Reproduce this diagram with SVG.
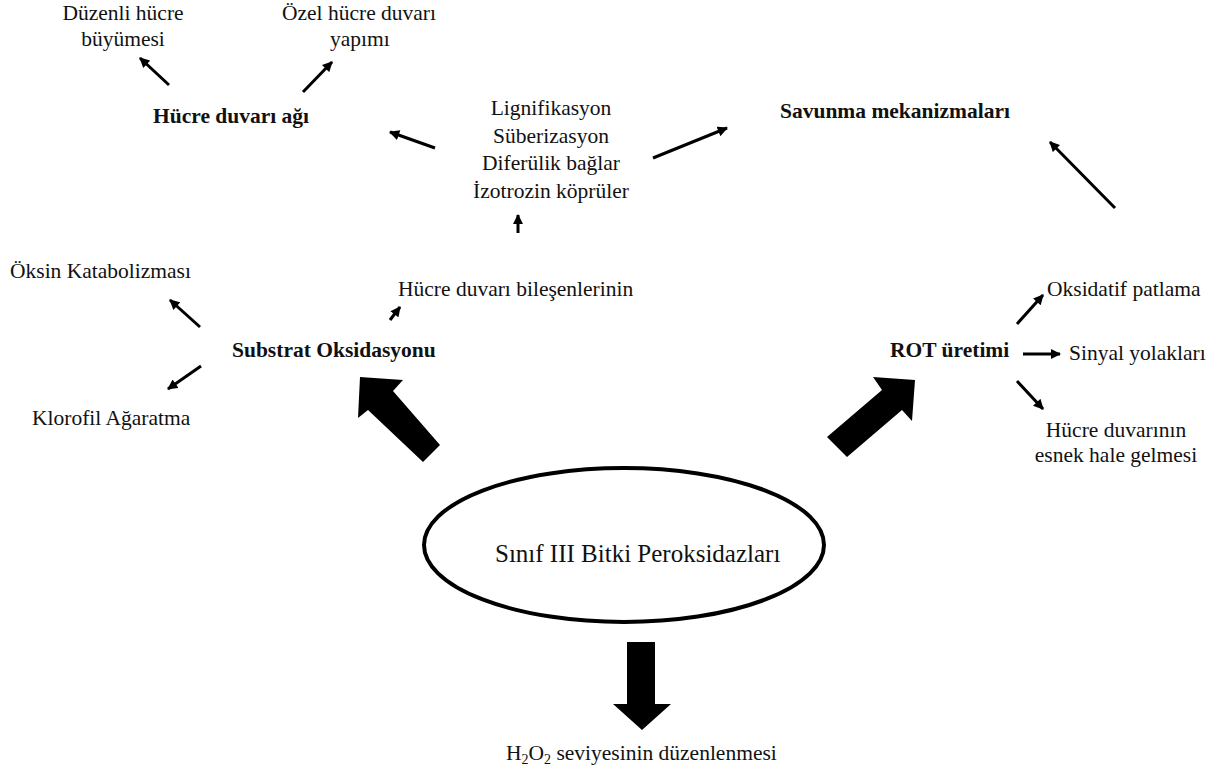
<svg xmlns="http://www.w3.org/2000/svg" width="1223" height="773" viewBox="0 0 1223 773" font-family="'Liberation Serif', 'Times New Roman', Times, serif">
<defs>
<marker id="ah" viewBox="0 0 10 10" refX="9" refY="5" markerWidth="3.6" markerHeight="3.4" orient="auto" markerUnits="strokeWidth">
<path d="M0,0 L10,5 L0,10 Z" fill="#000"/>
</marker>
<style>
text{font-family:'Liberation Serif', 'Times New Roman', Times, serif;font-size:21.5px;fill:#111}
.b{font-weight:bold}
.c{text-anchor:middle}
.thin{stroke:#000;stroke-width:3;fill:none;marker-end:url(#ah)}
.big{fill:#000}
</style>
</defs>
<rect width="1223" height="773" fill="#fff"/>
<g id="n-duzenli"><text class="c" x="123" y="20">Düzenli hücre</text><text class="c" x="123" y="46">büyümesi</text></g>
<g id="n-ozel"><text x="282" y="20">Özel hücre duvarı</text><text x="330" y="46">yapımı</text></g>
<g id="n-agi"><text class="b" x="153" y="123">Hücre duvarı ağı</text></g>
<g id="n-lig"><text class="c" x="551" y="115">Lignifikasyon</text><text class="c" x="551" y="143">Süberizasyon</text><text class="c" x="551" y="170">Diferülik bağlar</text><text class="c" x="551" y="198">İzotrozin köprüler</text></g>
<g id="n-savunma"><text class="b" x="780" y="118">Savunma mekanizmaları</text></g>
<g id="n-oksin"><text x="10" y="278">Öksin Katabolizması</text></g>
<g id="n-hdb"><text x="398" y="296">Hücre duvarı bileşenlerinin</text></g>
<g id="n-substrat"><text class="b" x="232" y="357">Substrat Oksidasyonu</text></g>
<g id="n-klorofil"><text x="32" y="425">Klorofil Ağaratma</text></g>
<g id="n-rot"><text class="b" x="890" y="357">ROT üretimi</text></g>
<g id="n-oksidatif"><text x="1047" y="296">Oksidatif patlama</text></g>
<g id="n-sinyal"><text x="1069" y="360">Sinyal yolakları</text></g>
<g id="n-esnek"><text class="c" x="1116" y="437">Hücre duvarının</text><text class="c" x="1116" y="462">esnek hale gelmesi</text></g>
<g id="n-center"><ellipse cx="624" cy="545" rx="200" ry="77" fill="none" stroke="#000" stroke-width="4"/><text x="495" y="562" style="font-size:25px">Sınıf III Bitki Peroksidazları</text></g>
<g id="n-h2o2"><text x="506" y="760">H<tspan style="font-size:14px" dy="4">2</tspan><tspan dy="-4">O</tspan><tspan style="font-size:14px" dy="4">2</tspan><tspan dy="-4"> seviyesinin düzenlenmesi</tspan></text></g>
<g id="connectors">
<line class="thin" x1="169" y1="85" x2="140" y2="58"/>
<line class="thin" x1="303" y1="92" x2="332" y2="62"/>
<line class="thin" x1="435" y1="148" x2="390" y2="132"/>
<line class="thin" x1="653" y1="158" x2="727" y2="128"/>
<line class="thin" x1="1115" y1="208" x2="1050" y2="142"/>
<line class="thin" x1="518" y1="233" x2="518" y2="215"/>
<line class="thin" x1="200" y1="327" x2="170" y2="300"/>
<line class="thin" x1="201" y1="366" x2="168" y2="389"/>
<line class="thin" x1="390" y1="320" x2="400" y2="307"/>
<line class="thin" x1="1017" y1="324" x2="1043" y2="295"/>
<line class="thin" x1="1023" y1="354" x2="1060" y2="354"/>
<line class="thin" x1="1017" y1="381" x2="1043" y2="409"/>
<polygon class="big" points="360,377 403,380 393,391 440,445 423,462 368,410 358,418"/>
<polygon class="big" points="915,380 873,377 882,390 827,437 847,457 902,410 912,421"/>
<polygon class="big" points="627,642 655,642 655,704 671,704 642,730 613,704 627,704"/>
</g>
</svg>
